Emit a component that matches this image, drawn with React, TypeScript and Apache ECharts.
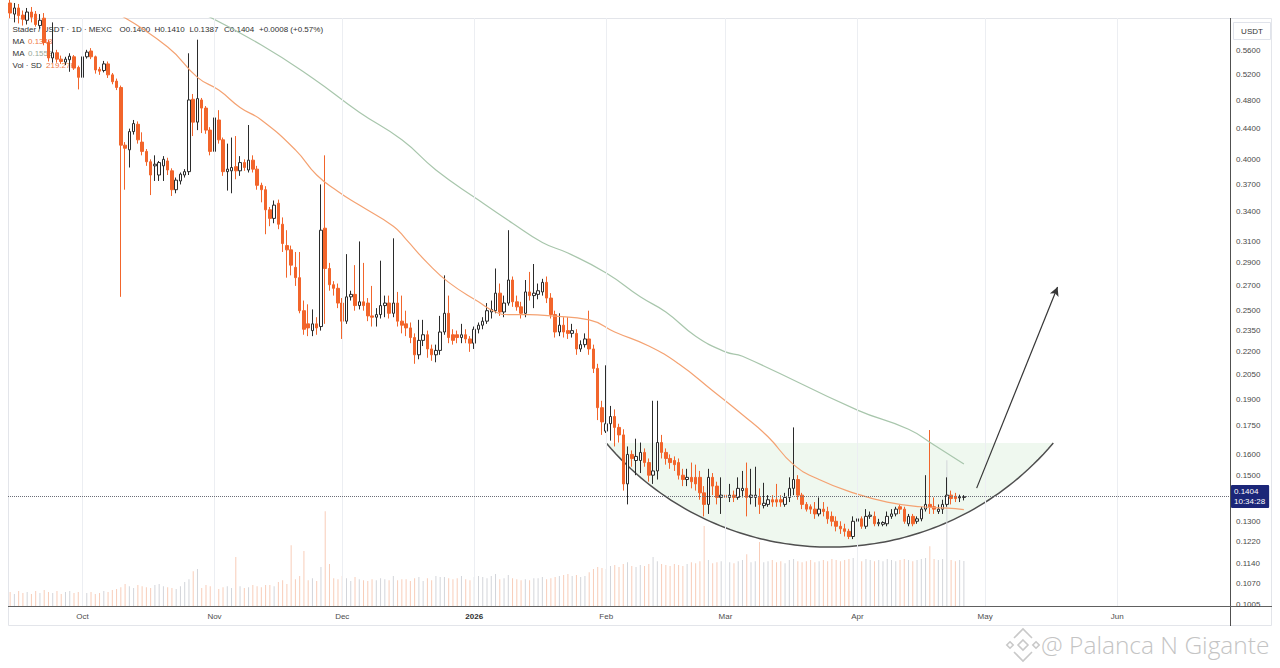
import React, { useEffect, useRef } from 'react';
import * as echarts from 'echarts';

const FONT = '"Liberation Sans", Arial, sans-serif';

// ---------- categories ----------
const START_UTC = Date.UTC(2025, 8, 14);
const DAY_COUNT = 287; // 2025-09-14 .. 2026-06-27
const dates: string[] = Array.from({ length: DAY_COUNT }, (_, i) =>
  new Date(START_UTC + i * 86400000).toISOString().slice(0, 10)
);
const monthNames = ['Jan', 'Feb', 'Mar', 'Apr', 'May', 'Jun', 'Jul', 'Aug', 'Sep', 'Oct', 'Nov', 'Dec'];

// ---------- daily candles [open, close, low, high] (from 2025-09-14) ----------
const ohlc: number[][] = [
  // Sep 14 - Sep 30
  [0.650, 0.630, 0.620, 0.665], [0.628, 0.640, 0.612, 0.650], [0.640, 0.625, 0.610, 0.648],
  [0.626, 0.618, 0.606, 0.635], [0.616, 0.632, 0.608, 0.640], [0.632, 0.622, 0.612, 0.642],
  [0.628, 0.608, 0.604, 0.634], [0.606, 0.616, 0.600, 0.628], [0.620, 0.575, 0.570, 0.630],
  [0.575, 0.548, 0.542, 0.580], [0.548, 0.557, 0.540, 0.612], [0.557, 0.546, 0.540, 0.562],
  [0.546, 0.542, 0.538, 0.552], [0.541, 0.546, 0.536, 0.550], [0.545, 0.551, 0.525, 0.556],
  [0.550, 0.531, 0.528, 0.553], [0.532, 0.516, 0.497, 0.535],
  // Oct
  [0.516, 0.550, 0.510, 0.553], [0.550, 0.558, 0.547, 0.562], [0.560, 0.550, 0.546, 0.565],
  [0.550, 0.528, 0.522, 0.552], [0.529, 0.526, 0.520, 0.533], [0.527, 0.538, 0.524, 0.543],
  [0.538, 0.520, 0.515, 0.542], [0.520, 0.509, 0.505, 0.523], [0.510, 0.500, 0.496, 0.514],
  [0.500, 0.418, 0.261, 0.503], [0.418, 0.414, 0.364, 0.422], [0.412, 0.436, 0.390, 0.440],
  [0.436, 0.447, 0.432, 0.452], [0.446, 0.425, 0.420, 0.450], [0.422, 0.410, 0.405, 0.435],
  [0.410, 0.397, 0.392, 0.413], [0.397, 0.381, 0.358, 0.400], [0.392, 0.394, 0.374, 0.405],
  [0.381, 0.396, 0.374, 0.398], [0.392, 0.400, 0.374, 0.404], [0.398, 0.387, 0.381, 0.402],
  [0.386, 0.364, 0.357, 0.389], [0.364, 0.375, 0.360, 0.378], [0.374, 0.382, 0.370, 0.384],
  [0.381, 0.385, 0.378, 0.388], [0.385, 0.481, 0.381, 0.556], [0.482, 0.449, 0.430, 0.490],
  [0.449, 0.483, 0.438, 0.580], [0.481, 0.469, 0.434, 0.484], [0.469, 0.438, 0.433, 0.472],
  [0.438, 0.410, 0.405, 0.442],
  // Nov
  [0.410, 0.455, 0.405, 0.493], [0.452, 0.425, 0.420, 0.466], [0.425, 0.385, 0.380, 0.428],
  [0.385, 0.388, 0.363, 0.420], [0.386, 0.390, 0.360, 0.428], [0.391, 0.386, 0.376, 0.430],
  [0.386, 0.396, 0.380, 0.404], [0.396, 0.390, 0.386, 0.400], [0.387, 0.399, 0.384, 0.445],
  [0.399, 0.388, 0.384, 0.405], [0.388, 0.369, 0.364, 0.392], [0.369, 0.364, 0.350, 0.372],
  [0.364, 0.342, 0.317, 0.368], [0.342, 0.333, 0.325, 0.345], [0.333, 0.347, 0.328, 0.352],
  [0.349, 0.327, 0.322, 0.353], [0.327, 0.308, 0.300, 0.334], [0.306, 0.302, 0.277, 0.321],
  [0.302, 0.288, 0.279, 0.306], [0.286, 0.277, 0.270, 0.300], [0.277, 0.250, 0.248, 0.300],
  [0.250, 0.236, 0.232, 0.258], [0.240, 0.237, 0.231, 0.255], [0.235, 0.240, 0.231, 0.251],
  [0.240, 0.237, 0.232, 0.245], [0.238, 0.321, 0.235, 0.370], [0.323, 0.285, 0.240, 0.405],
  [0.285, 0.271, 0.266, 0.290], [0.271, 0.268, 0.262, 0.274], [0.268, 0.256, 0.252, 0.272],
  // Dec
  [0.256, 0.242, 0.229, 0.260], [0.242, 0.261, 0.240, 0.298], [0.261, 0.263, 0.258, 0.266],
  [0.263, 0.254, 0.250, 0.288], [0.254, 0.257, 0.251, 0.310], [0.257, 0.254, 0.250, 0.290],
  [0.256, 0.246, 0.242, 0.260], [0.246, 0.245, 0.238, 0.270], [0.245, 0.247, 0.238, 0.252],
  [0.247, 0.254, 0.244, 0.292], [0.254, 0.256, 0.245, 0.262], [0.256, 0.248, 0.244, 0.262],
  [0.248, 0.256, 0.245, 0.313], [0.256, 0.242, 0.238, 0.265], [0.242, 0.239, 0.233, 0.262],
  [0.240, 0.237, 0.231, 0.250], [0.237, 0.230, 0.226, 0.241], [0.230, 0.218, 0.212, 0.233],
  [0.218, 0.228, 0.215, 0.243], [0.228, 0.232, 0.224, 0.243], [0.232, 0.222, 0.216, 0.235],
  [0.222, 0.218, 0.214, 0.225], [0.218, 0.221, 0.213, 0.225], [0.221, 0.234, 0.218, 0.246],
  [0.234, 0.248, 0.232, 0.279], [0.248, 0.230, 0.226, 0.262], [0.232, 0.228, 0.225, 0.236],
  [0.232, 0.230, 0.226, 0.235], [0.230, 0.232, 0.226, 0.240], [0.232, 0.229, 0.226, 0.236],
  [0.229, 0.226, 0.220, 0.231],
  // Jan 2026
  [0.226, 0.236, 0.222, 0.238], [0.236, 0.239, 0.233, 0.241], [0.239, 0.242, 0.236, 0.245],
  [0.242, 0.250, 0.240, 0.256], [0.249, 0.251, 0.244, 0.258], [0.250, 0.264, 0.248, 0.285],
  [0.264, 0.249, 0.246, 0.272], [0.249, 0.256, 0.245, 0.262], [0.256, 0.275, 0.254, 0.321],
  [0.275, 0.257, 0.253, 0.278], [0.257, 0.253, 0.250, 0.262], [0.253, 0.248, 0.244, 0.257],
  [0.248, 0.265, 0.245, 0.275], [0.265, 0.262, 0.258, 0.282], [0.262, 0.264, 0.252, 0.289],
  [0.263, 0.266, 0.259, 0.272], [0.265, 0.273, 0.262, 0.276], [0.273, 0.260, 0.256, 0.278],
  [0.260, 0.247, 0.244, 0.264], [0.247, 0.234, 0.230, 0.250], [0.234, 0.239, 0.231, 0.248],
  [0.239, 0.234, 0.230, 0.245], [0.235, 0.233, 0.229, 0.245], [0.233, 0.235, 0.230, 0.240],
  [0.233, 0.222, 0.218, 0.236], [0.222, 0.225, 0.220, 0.228], [0.225, 0.229, 0.223, 0.233],
  [0.229, 0.222, 0.218, 0.250], [0.222, 0.209, 0.206, 0.225], [0.209, 0.185, 0.178, 0.212],
  [0.185, 0.177, 0.170, 0.189],
  // Feb
  [0.172, 0.176, 0.171, 0.211], [0.176, 0.180, 0.167, 0.186], [0.180, 0.174, 0.164, 0.184],
  [0.174, 0.170, 0.166, 0.176], [0.170, 0.146, 0.143, 0.173], [0.146, 0.160, 0.137, 0.164],
  [0.160, 0.158, 0.154, 0.162], [0.157, 0.159, 0.150, 0.168], [0.157, 0.161, 0.151, 0.166],
  [0.161, 0.156, 0.154, 0.163], [0.156, 0.150, 0.147, 0.158], [0.150, 0.152, 0.146, 0.189],
  [0.152, 0.166, 0.148, 0.189], [0.166, 0.161, 0.158, 0.170], [0.161, 0.158, 0.155, 0.163],
  [0.158, 0.156, 0.153, 0.160], [0.157, 0.155, 0.152, 0.159], [0.156, 0.150, 0.148, 0.158],
  [0.150, 0.148, 0.145, 0.153], [0.148, 0.149, 0.145, 0.153], [0.149, 0.147, 0.144, 0.156],
  [0.149, 0.146, 0.143, 0.155], [0.149, 0.142, 0.139, 0.152], [0.142, 0.137, 0.132, 0.145],
  [0.137, 0.149, 0.133, 0.153], [0.149, 0.145, 0.141, 0.151], [0.145, 0.140, 0.137, 0.147],
  [0.140, 0.141, 0.133, 0.149],
  // Mar
  [0.141, 0.140, 0.137, 0.147], [0.140, 0.141, 0.138, 0.146], [0.141, 0.140, 0.138, 0.143],
  [0.140, 0.144, 0.139, 0.149], [0.143, 0.144, 0.140, 0.152], [0.144, 0.140, 0.132, 0.156],
  [0.140, 0.141, 0.137, 0.153], [0.140, 0.141, 0.136, 0.154], [0.140, 0.137, 0.133, 0.144],
  [0.1365, 0.1375, 0.1353, 0.1465], [0.137, 0.139, 0.136, 0.141], [0.139, 0.138, 0.136, 0.141],
  [0.139, 0.138, 0.136, 0.146], [0.139, 0.138, 0.136, 0.141], [0.137, 0.140, 0.136, 0.142],
  [0.140, 0.144, 0.138, 0.149], [0.144, 0.148, 0.141, 0.174], [0.148, 0.141, 0.139, 0.150],
  [0.141, 0.137, 0.135, 0.142], [0.137, 0.135, 0.134, 0.138], [0.136, 0.135, 0.133, 0.137],
  [0.135, 0.133, 0.131, 0.138], [0.133, 0.135, 0.132, 0.140], [0.135, 0.134, 0.132, 0.138],
  [0.134, 0.131, 0.129, 0.136], [0.132, 0.130, 0.128, 0.134], [0.130, 0.128, 0.126, 0.132],
  [0.128, 0.127, 0.125, 0.130], [0.127, 0.126, 0.124, 0.129], [0.126, 0.124, 0.123, 0.127],
  [0.124, 0.130, 0.123, 0.132],
  // Apr
  [0.130, 0.131, 0.129, 0.135], [0.131, 0.128, 0.127, 0.132], [0.128, 0.132, 0.127, 0.135],
  [0.132, 0.1325, 0.131, 0.134], [0.132, 0.129, 0.128, 0.134], [0.129, 0.1295, 0.128, 0.131],
  [0.1288, 0.1295, 0.128, 0.130], [0.129, 0.132, 0.128, 0.134], [0.132, 0.133, 0.131, 0.135],
  [0.133, 0.135, 0.132, 0.136], [0.136, 0.135, 0.133, 0.137], [0.135, 0.130, 0.129, 0.136],
  [0.129, 0.132, 0.128, 0.133], [0.132, 0.129, 0.128, 0.133], [0.130, 0.131, 0.129, 0.132],
  [0.131, 0.135, 0.130, 0.136], [0.135, 0.137, 0.134, 0.150], [0.137, 0.136, 0.133, 0.1726],
  [0.136, 0.135, 0.133, 0.140], [0.134, 0.135, 0.133, 0.137], [0.135, 0.137, 0.133, 0.139],
  [0.137, 0.141, 0.136, 0.149], [0.141, 0.1395, 0.137, 0.143], [0.1405, 0.1395, 0.138, 0.142],
  [0.1398, 0.1402, 0.138, 0.1412], [0.1400, 0.1404, 0.1387, 0.1410],
];

// ---------- daily volume (thousands) ----------
const volumesK: number[] = [
  68, 58, 73, 63, 68, 58, 73, 63, 78, 68, 63, 73, 58, 68, 73, 63, 68, 73,
  63, 68, 58, 63, 73, 68, 78, 83,
  92, 107, 97, 88, 102, 97, 92, 88, 102, 107,
  97, 92, 88, 83, 97, 117, 131, 170, 180, 88, 102, 97,
  88, 83, 92, 97, 88, 239, 97, 88, 92, 102, 97, 92, 102,
  102, 97, 117, 126, 107, 297, 131, 146, 268, 126, 136, 122, 190, 463, 205,
  136, 131, 146, 136, 122, 141, 131, 126, 122, 131, 126, 136, 131, 126, 146, 126, 131, 131,
  122, 136, 141, 122, 136, 126, 146, 141, 141, 136, 131, 136, 146, 131, 126, 141, 146,
  141, 136, 146, 156, 131, 136, 151, 136, 131, 126, 131, 126, 136, 136, 141, 131, 136, 141,
  146, 151, 156, 146, 151, 141, 146,
  165, 180, 190, 185, 180,
  195, 200, 190, 205, 214, 195, 190, 200, 195, 205, 239, 219, 205, 200, 195, 205, 200, 195,
  205, 214, 209, 219, 390, 224, 209, 214, 219, 205, 214, 209, 219, 224, 253, 214, 219, 312,
  214, 219, 224, 214, 219, 209, 224, 229, 219, 214, 219, 224, 214, 219, 224, 219, 229, 224,
  219, 224, 229, 234, 224, 219, 229, 224, 219, 224, 219, 229, 224, 219, 224, 229, 224, 219,
  224, 229, 234, 292, 229, 224, 229, 711, 224, 219, 224, 219.27,
];

// ---------- moving averages ----------
const maFast: [string, number][] = [
  ['2025-10-09', 0.63], ['2025-10-21', 0.567], ['2025-10-28', 0.516], ['2025-11-02', 0.496],
  ['2025-11-07', 0.47], ['2025-11-12', 0.452], ['2025-11-20', 0.412], ['2025-11-25', 0.381],
  ['2025-11-30', 0.362], ['2025-12-05', 0.347], ['2025-12-13', 0.325], ['2025-12-16', 0.312],
  ['2025-12-21', 0.29], ['2025-12-26', 0.273], ['2026-01-02', 0.257], ['2026-01-06', 0.249],
  ['2026-01-09', 0.247], ['2026-01-14', 0.247], ['2026-01-19', 0.246], ['2026-01-28', 0.243],
  ['2026-02-03', 0.234], ['2026-02-11', 0.224], ['2026-02-18', 0.212], ['2026-02-26', 0.195],
  ['2026-03-05', 0.181], ['2026-03-11', 0.169], ['2026-03-17', 0.155], ['2026-03-23', 0.148],
  ['2026-03-31', 0.142], ['2026-04-08', 0.138], ['2026-04-16', 0.136], ['2026-04-24', 0.1352],
  ['2026-04-26', 0.1348],
];
const maSlow: [string, number][] = [
  ['2025-10-29', 0.63], ['2025-11-12', 0.5705], ['2025-11-24', 0.515], ['2025-12-05', 0.463],
  ['2025-12-15', 0.425], ['2025-12-23', 0.387], ['2026-01-02', 0.3525], ['2026-01-10', 0.328],
  ['2026-01-17', 0.309], ['2026-01-23', 0.299], ['2026-02-01', 0.281], ['2026-02-09', 0.261],
  ['2026-02-15', 0.249], ['2026-02-22', 0.231], ['2026-03-01', 0.22], ['2026-03-05', 0.217],
  ['2026-04-01', 0.1836], ['2026-04-13', 0.173], ['2026-04-19', 0.1647], ['2026-04-26', 0.1553],
];

// ---------- price-axis tick labels ----------
const yTickLabels = [
  '0.5600', '0.5200', '0.4800', '0.4400', '0.4000', '0.3700', '0.3400', '0.3100', '0.2900',
  '0.2700', '0.2500', '0.2350', '0.2200', '0.2050', '0.1900', '0.1750', '0.1600', '0.1500',
  '0.1300', '0.1220', '0.1140', '0.1070', '0.1005',
];

// ---------- annotations ----------
const lastPrice = 0.1404;
const lastTime = '10:34:28';
const arcLeftDate = '2026-02-01';
const arcRightDate = '2026-05-17';
const arcRimPrice = 0.1658;
const arcBottomPrice = 0.12;
const arrowFrom: [string, number] = ['2026-04-29', 0.1441];
const arrowTo: [string, number] = ['2026-05-18', 0.2691];

const legendMain = ['Stader / USDT · 1D · MEXC', 'O0.1400', 'H0.1410', 'L0.1387', 'C0.1404', '+0.0008 (+0.57%)'];
const legendMaFast = '0.1348';
const legendMaSlow = '0.1553';
const legendVol = '219.27K';

const UP_LINE = '#2b2b2b';
const DOWN = '#f2652b';
const VOL_UP = '#d3d5da';
const VOL_DOWN = '#f8cdb9';
const MA_FAST = '#f4a272';
const MA_SLOW = '#a8c6ac';

function buildOption(): any {
  const arcL = dates.indexOf(arcLeftDate);
  const arcR = dates.indexOf(arcRightDate);
  const legendX = [12.5, 119.5, 154.5, 189.5, 224, 259];

  const txt = (x: number, y: number, text: string, fill: string, size = 8): any => ({
    type: 'text', x, y, silent: true,
    style: { text, fill, fontSize: size, fontFamily: FONT, verticalAlign: 'middle' },
  });

  const diamond = (cx: number, cy: number, r: number): any => ({
    type: 'polygon', silent: true,
    shape: { points: [[cx, cy - r], [cx + r, cy], [cx, cy + r], [cx - r, cy]] },
    style: { fill: 'none', stroke: '#c9c9c9', lineWidth: 1.6 },
  });
  const chevron = (pts: number[][]): any => ({
    type: 'polyline', silent: true, shape: { points: pts },
    style: { fill: 'none', stroke: '#c9c9c9', lineWidth: 1.6 },
  });

  return {
    animation: false,
    backgroundColor: '#ffffff',
    grid: { left: 8, right: 50, top: 18, bottom: 62, containLabel: false, outerBoundsMode: 'none' },
    xAxis: {
      type: 'category',
      data: dates,
      boundaryGap: true,
      axisLine: { show: false },
      axisTick: { show: false },
      splitLine: { show: false },
      axisLabel: {
        interval: (_i: number, v: string) => v.slice(8) === '01',
        formatter: (v: string) => {
          const m = Number(v.slice(5, 7));
          return m === 1 ? '{y|' + v.slice(0, 4) + '}' : monthNames[m - 1];
        },
        fontSize: 8, color: '#4d4d4d', fontFamily: FONT, margin: 6,
        rich: { y: { fontSize: 8, fontWeight: 'bold', color: '#2e2e2e', fontFamily: FONT } },
      },
    },
    yAxis: [
      {
        type: 'log', logBase: 10, min: 0.09993, max: 0.6204, position: 'right',
        axisLine: { show: false }, axisTick: { show: false }, axisLabel: { show: false },
        splitLine: { show: false },
      },
      { type: 'value', min: 0, max: 2870, show: false, splitLine: { show: false } },
    ],
    graphic: [
      { type: 'rect', silent: true, shape: { x: 8.5, y: 18.5, width: 1263, height: 607 },
        style: { fill: 'none', stroke: '#e3e5ea', lineWidth: 1 } },
      { type: 'line', silent: true, shape: { x1: 1230.5, y1: 18, x2: 1230.5, y2: 626 },
        style: { stroke: '#505050', lineWidth: 1 } },
      { type: 'line', silent: true, shape: { x1: 8, y1: 606.5, x2: 1272, y2: 606.5 },
        style: { stroke: '#606060', lineWidth: 1 } },
      { type: 'rect', silent: true, shape: { x: 1233.5, y: 22.5, width: 37, height: 17 },
        style: { fill: '#ffffff', stroke: '#e0e3eb', lineWidth: 1 } },
      { type: 'text', x: 1252, y: 31, silent: true,
        style: { text: 'USDT', fill: '#333', fontSize: 8, fontFamily: FONT, align: 'center', verticalAlign: 'middle' } },
      ...legendMain.map((t, i) => txt(legendX[i], 29.5, t, '#2f2f2f')),
      txt(12.5, 41.5, 'MA', '#2f2f2f'),
      txt(28, 41.5, legendMaFast, '#f07a48'),
      txt(12.5, 53.5, 'MA', '#2f2f2f'),
      txt(28, 53.5, legendMaSlow, '#97a898'),
      txt(12.5, 65, 'Vol · SD', '#2f2f2f'),
      txt(46, 65, legendVol, '#f07a48'),
      // watermark
      diamond(1023, 645, 5),
      diamond(1010, 645, 3.2),
      diamond(1036, 645, 3.2),
      chevron([[1014, 638], [1023, 629], [1032, 638]]),
      chevron([[1014, 652], [1023, 661], [1032, 652]]),
      { type: 'text', x: 1041, y: 644, silent: true,
        style: { text: '@ Palanca N Gigante', fill: '#c4c4c4', fontSize: 24.5, fontWeight: 300,
          fontFamily: '"Open Sans", "Noto Sans", sans-serif', verticalAlign: 'middle' } },
    ],
    series: [
      {
        type: 'bar', name: 'Vol', xAxisIndex: 0, yAxisIndex: 1, barWidth: 1, silent: true,
        data: volumesK.map((v, i) => ({
          value: v,
          itemStyle: { color: ohlc[i][1] >= ohlc[i][0] ? VOL_UP : VOL_DOWN },
        })),
        markLine: {
          silent: true, symbol: 'none', label: { show: false }, precision: 6,
          lineStyle: { color: '#eceef2', width: 1, type: 'solid' },
          data: dates.filter((d) => d.slice(8) === '01').map((d) => ({ xAxis: d })),
        },
      },
      {
        type: 'custom', name: 'cup', xAxisIndex: 0, yAxisIndex: 0, silent: true,
        dimensions: ['x', 'rim', 'x2', 'bottom'],
        encode: { x: 0, y: 1 },
        data: [[arcL, arcRimPrice, arcR, arcBottomPrice]],
        renderItem: (_p: any, api: any) => {
          const a = api.coord([api.value(0), api.value(1)]);
          const b = api.coord([api.value(2), api.value(1)]);
          const m = api.coord([api.value(0), api.value(3)]);
          const cx = (a[0] + b[0]) / 2;
          const half = (b[0] - a[0]) / 2;
          const s = m[1] - a[1];
          const R = (half * half + s * s) / (2 * s);
          const cy = a[1] + s - R;
          const pts: number[][] = [];
          for (let i = 0; i <= 90; i++) {
            const x = a[0] + ((b[0] - a[0]) * i) / 90;
            const dx = x - cx;
            pts.push([x, cy + Math.sqrt(Math.max(0, R * R - dx * dx))]);
          }
          return {
            type: 'group',
            children: [
              { type: 'polygon', shape: { points: pts }, style: { fill: 'rgba(76,175,80,0.09)', stroke: null } },
              { type: 'polyline', shape: { points: pts }, style: { fill: null, stroke: '#4f4f4f', lineWidth: 1.5 } },
            ],
          };
        },
      },
      {
        type: 'candlestick', name: 'STD', xAxisIndex: 0, yAxisIndex: 0, barWidth: 3, silent: true,
        data: ohlc,
        itemStyle: { color: '#ffffff', color0: DOWN, borderColor: UP_LINE, borderColor0: DOWN, borderWidth: 1 },
        markLine: {
          silent: true, symbol: 'none', precision: 6,
          data: [
            ...yTickLabels.map((t) => ({
              name: t, yAxis: Number(t),
              lineStyle: { color: 'rgba(0,0,0,0)', width: 1, type: 'solid' },
              label: { show: true, position: 'end', formatter: '{b}', color: '#4a4a4a', fontSize: 8,
                fontFamily: FONT, distance: 6 },
            })),
            {
              name: 'last', yAxis: lastPrice,
              lineStyle: { color: '#6b6e78', width: 1, type: 'dotted' },
              label: {
                show: true, position: 'end', formatter: lastPrice.toFixed(4) + '\n' + lastTime,
                color: '#ffffff', fontSize: 8, lineHeight: 10, fontFamily: FONT,
                backgroundColor: '#1b2678', padding: [2, 4, 1, 3], distance: 1, borderRadius: 1,
              },
            },
          ],
        },
      },
      {
        type: 'line', name: 'MA slow', xAxisIndex: 0, yAxisIndex: 0, data: maSlow, smooth: true,
        showSymbol: false, symbol: 'none', silent: true,
        lineStyle: { color: MA_SLOW, width: 1.2 },
      },
      {
        type: 'line', name: 'MA fast', xAxisIndex: 0, yAxisIndex: 0, data: maFast, smooth: true,
        showSymbol: false, symbol: 'none', silent: true,
        lineStyle: { color: MA_FAST, width: 1.2 },
        markLine: {
          silent: true, symbol: ['none', 'arrow'], symbolSize: [7, 9], precision: 6,
          label: { show: false },
          lineStyle: { color: '#363636', width: 1.2, type: 'solid' },
          data: [[{ coord: arrowFrom }, { coord: arrowTo }]],
        },
      },
    ],
  };
}

export default function App() {
  const ref = useRef<HTMLDivElement>(null);
  useEffect(() => {
    if (!ref.current) return;
    const chart = echarts.init(ref.current, null, { renderer: 'svg' });
    chart.setOption(buildOption());
    return () => chart.dispose();
  }, []);
  return (
    <div
      ref={ref}
      style={{ position: 'fixed', left: 0, top: 0, width: 1280, height: 668, background: '#ffffff' }}
    />
  );
}
